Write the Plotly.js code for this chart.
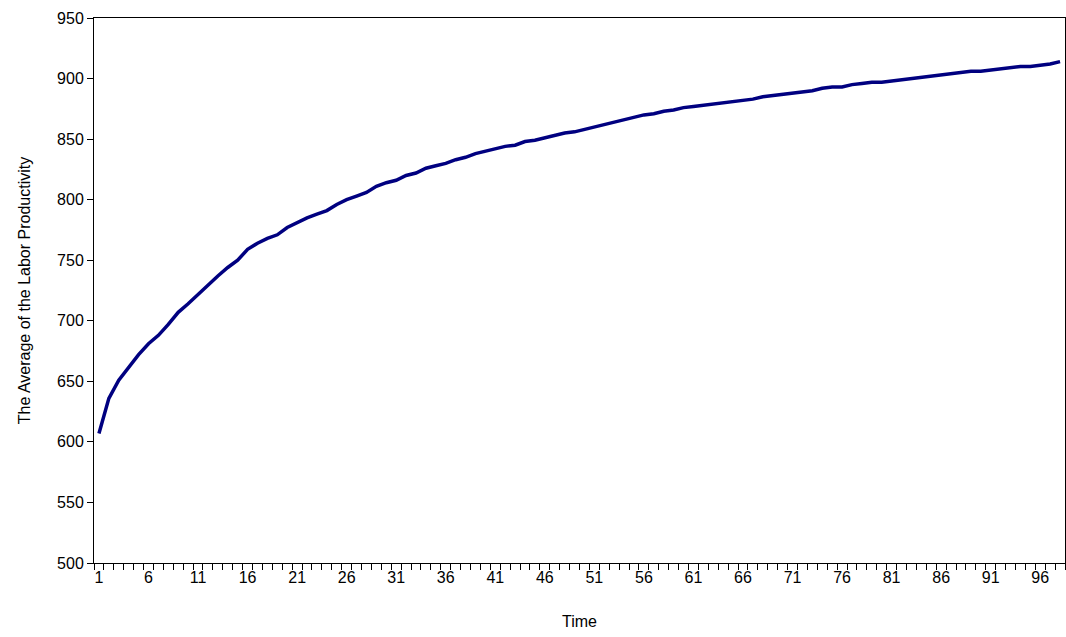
<!DOCTYPE html>
<html><head><meta charset="utf-8">
<script src="https://cdn.plot.ly/plotly-3.0.1.min.js"></script>
<style>body{margin:0;background:#fff}</style></head>
<body><div id="c" style="width:1066px;height:637px"></div>
<script>
const values = [607,636,651,662,672,681,688,697,707,714,722,729,737,744,750,759,764,768,771,777,
781,785,788,791,796,800,803,806,811,814,816,820,822,826,828,830,833,835,838,840,
842,844,845,848,849,851,853,855,856,858,860,862,864,866,868,870,871,873,874,876,
877,878,879,880,881,882,883,885,886,887,888,889,890,892,893,893,895,896,897,897,
898,899,900,901,902,903,904,905,906,906,907,908,909,910,910,911,912,914];
const time = values.map((v,i)=>i+1);
const tickVals = time.filter(t=>(t-1)%5===0);
const tickText = tickVals.map(String);
Plotly.newPlot('c',[{x:time,y:values,type:'scatter',mode:'lines',
 line:{color:'#000080',width:3.5},hoverinfo:'skip'}],{
 width:1066,height:637,margin:{l:94,r:1,t:18,b:74},
 paper_bgcolor:'#fff',plot_bgcolor:'#fff',showlegend:false,
 font:{family:'Liberation Sans, Arial',size:16,color:'#000'},
 xaxis:{range:[0.5,98.5],tickvals:tickVals,ticktext:tickText,ticks:'',showgrid:false,zeroline:false,
  showline:true,linecolor:'#000',linewidth:1,mirror:true,
  minor:{tick0:0.5,dtick:1,ticks:'outside',ticklen:6,tickcolor:'#000',showgrid:false},
  title:{text:'Time',font:{size:16},standoff:30}},
 yaxis:{range:[500,950],dtick:50,ticks:'outside',ticklen:6,tickcolor:'#000',showgrid:false,zeroline:false,
  showline:true,linecolor:'#000',linewidth:1,mirror:true,
  title:{text:'The Average of the Labor Productivity',font:{size:16},standoff:22}}
},{staticPlot:true});
</script></body></html>
